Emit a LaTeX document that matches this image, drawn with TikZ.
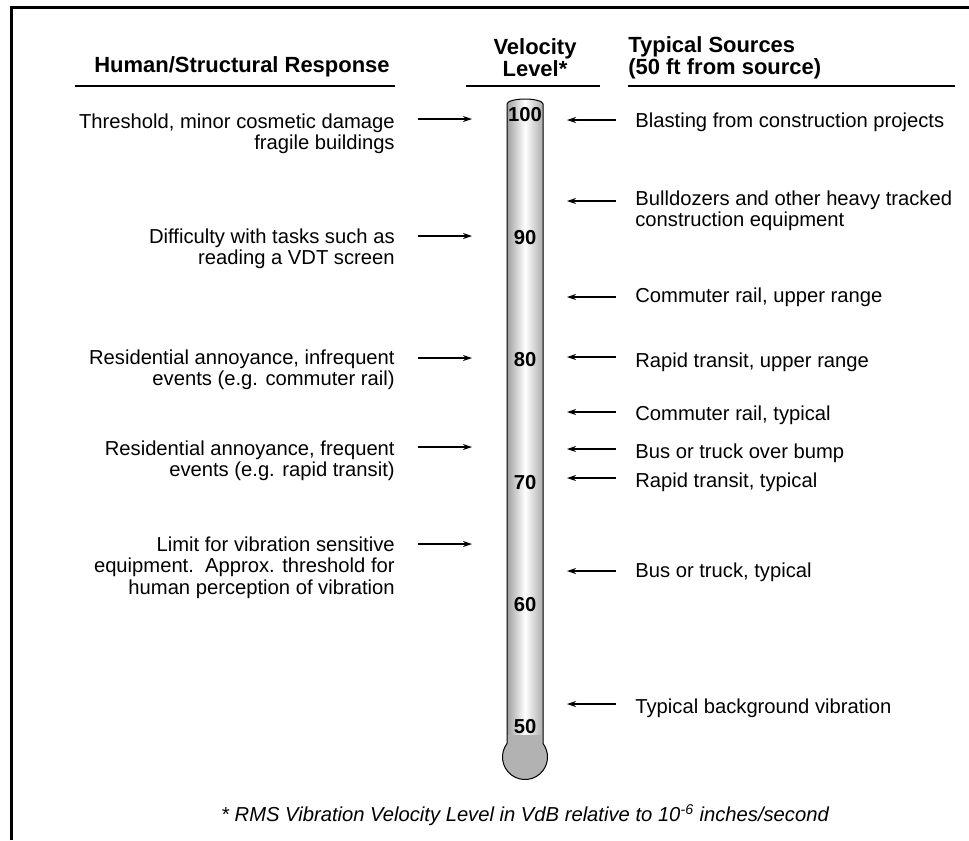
\documentclass[tikz,border=0pt]{standalone}
\usepackage{fontspec}
\setmainfont{Liberation Sans}
\usetikzlibrary{arrows.meta}

% outline of the thermometer (tube + bulb), in pixel units
\def\thermopath{(507,104) -- (507,743.5)
    arc[start angle=216.87, end angle=-36.87, radius=22.5]
    -- (543,104) arc[start angle=0, end angle=-180, x radius=18, y radius=5] -- cycle}

\begin{document}
\begin{tikzpicture}[
    x = 0.02cm, y = -0.02cm,
    >={Stealth[length=0.18cm, width=0.12cm]},
    heading/.style = {
        inner sep = 0pt,
        font = \fontsize{12.5}{11.5}\selectfont\bfseries
    },
    response/.style = {
        anchor = north east, align = right, inner sep = 0pt,
        font = \fontsize{11.5}{12.5}\selectfont
    },
    source/.style = {
        anchor = north west, align = left, inner sep = 0pt,
        font = \fontsize{11.5}{12.5}\selectfont
    },
    level/.style = {
        inner sep = 0pt,
        font = \fontsize{11.5}{12}\selectfont\bfseries
    },
    note/.style = {
        inner sep = 0pt,
        font = \fontsize{11.5}{12}\selectfont\itshape
    },
    rule/.style  = {line width = 0.04cm},
    arrow/.style = {->, line width = 0.025cm},
    resparrow/.style = {arrow, shorten <= 0.46cm},
    srcarrow/.style  = {arrow, shorten <= 0.38cm}
]
\useasboundingbox (0,0) rectangle (969,840);

% --- Frame (top and left edge) ---
\draw[line width = 0.06cm] (11.5,840) -- (11.5,7.5) -- (969,7.5);

% --- Column headings ---
\node[heading] (hresp) at (242,67) {Human/Structural Response};
\node[heading, align = center] (hlevel) at (535,58) {Velocity\\Level*};
\node[heading, align = left, anchor = west] (hsrc) at (628,58)
    {Typical Sources\\(50 ft from source)};

\draw[rule] (75,86)  -- (395,86);
\draw[rule] (466,86) -- (600,86);
\draw[rule] (628,86) -- (955,86);

% --- Thermometer ---
\begin{scope}
    \clip \thermopath;
    \shade[left color = gray!75, right color = gray!65, middle color = white]
        (507,90) rectangle (543,790);
    \fill[gray!60] (490,735) rectangle (560,790);
\end{scope}
\draw[line width = 0.02cm] \thermopath;

\foreach \v in {100,90,...,50}
    \node[level] (n\v) at (525,{115+(100-\v)*12.24}) {\v};

% --- Human/structural response (left) ---
\node[response] (cosmetic) at (395,113) {Threshold, minor cosmetic damage\\fragile buildings};
\node[response] (vdt)      at (395,228) {Difficulty with tasks such as\\reading a VDT screen};
\node[response] (infreq)   at (395,349) {Residential annoyance, infrequent\\events (e.g. commuter rail)};
\node[response] (freq)     at (395,440) {Residential annoyance, frequent\\events (e.g. rapid transit)};
\node[response] (limit)    at (395,536) {Limit for vibration sensitive\\equipment.\ \ Approx. threshold for\\human perception of vibration};

\coordinate (lv-cosmetic) at (472,119);
\coordinate (lv-vdt)      at (472,236);
\coordinate (lv-infreq)   at (472,358);
\coordinate (lv-freq)     at (472,447);
\coordinate (lv-limit)    at (472,544);

% --- Typical sources (right) ---
\node[source] (blasting) at (635,112) {Blasting from construction projects};
\node[source] (dozers)   at (635,190) {Bulldozers and other heavy tracked\\construction equipment};
\node[source] (crupper)  at (635,287) {Commuter rail, upper range};
\node[source] (rtupper)  at (635,352) {Rapid transit, upper range};
\node[source] (crtyp)    at (635,405) {Commuter rail, typical};
\node[source] (bump)     at (635,443) {Bus or truck over bump};
\node[source] (rttyp)    at (635,472) {Rapid transit, typical};
\node[source] (bustyp)   at (635,562) {Bus or truck, typical};
\node[source] (backgr)   at (635,698) {Typical background vibration};

\coordinate (lv-blasting) at (567,120);
\coordinate (lv-dozers)   at (567,201);
\coordinate (lv-crupper)  at (567,297);
\coordinate (lv-rtupper)  at (567,357);
\coordinate (lv-crtyp)    at (567,412);
\coordinate (lv-bump)     at (567,449);
\coordinate (lv-rttyp)    at (567,478);
\coordinate (lv-bustyp)   at (567,571);
\coordinate (lv-backgr)   at (567,704);

% --- Arrows ---
\foreach \r in {cosmetic,vdt,infreq,freq,limit}
    \draw[resparrow] (\r.east |- lv-\r) -- (lv-\r);

\foreach \s in {blasting,dozers,crupper,rtupper,crtyp,bump,rttyp,bustyp,backgr}
    \draw[srcarrow] (\s.west |- lv-\s) -- (lv-\s);

% --- Footnote ---
\node[note] (foot) at (525,815)
    {* RMS Vibration Velocity Level in VdB relative to 10\textsuperscript{-6} inches/second};

\end{tikzpicture}
\end{document}
